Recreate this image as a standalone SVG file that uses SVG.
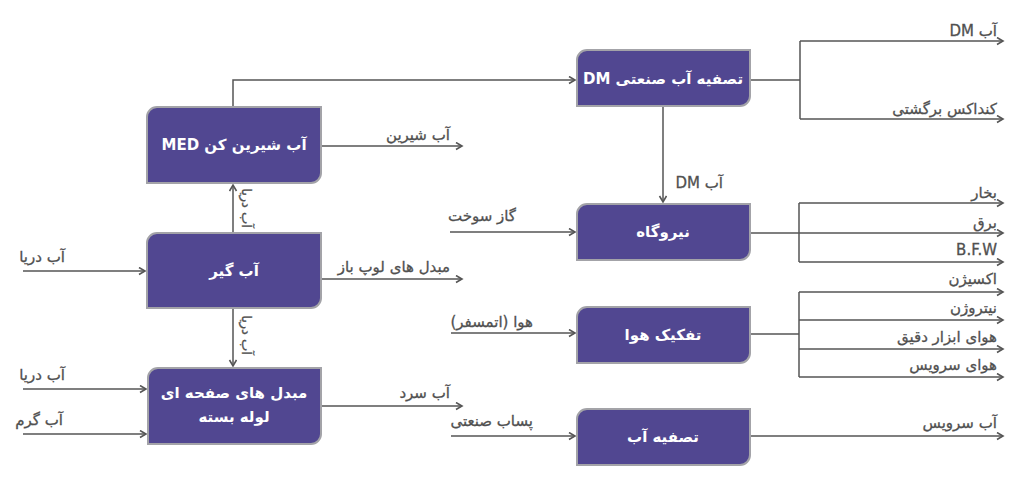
<svg xmlns="http://www.w3.org/2000/svg" width="1024" height="484" viewBox="0 0 1024 484">
<style>
.box{fill:#514791;stroke:#a3a3a8;stroke-width:2}
.bt{fill:#ffffff;font-family:"DejaVu Sans",sans-serif;font-weight:bold;font-size:15px;text-anchor:middle;direction:rtl}
.lb{fill:#505050;stroke:#505050;stroke-width:0.3;font-family:"DejaVu Sans",sans-serif;font-size:15px;direction:rtl;text-anchor:start}
.vl{font-size:13px;text-anchor:middle}
.ln{fill:none;stroke:#555555;stroke-width:1.5}
.ar{marker-end:url(#arrow)}
</style>
<defs>
<marker id="arrow" markerUnits="userSpaceOnUse" markerWidth="9" markerHeight="9" refX="7" refY="4" orient="auto">
<path d="M1,0.5 L7,4 L1,7.5" fill="none" stroke="#555555" stroke-width="1.6"/>
</marker>
</defs>
<rect width="1024" height="484" fill="#ffffff"/>
<g id="connectors">
<path class="ln ar" d="M233,107 V80 H575"/>
<path class="ln ar" d="M321,146 H462"/>
<path class="ln ar" d="M233,233 V185"/>
<path class="ln ar" d="M233,308 V366"/>
<path class="ln ar" d="M23,271 H145"/>
<path class="ln ar" d="M321,279 H462"/>
<path class="ln ar" d="M23,389 H146"/>
<path class="ln ar" d="M23,434 H146"/>
<path class="ln ar" d="M321,406 H462"/>
<path class="ln" d="M750,80 H800"/>
<path class="ln" d="M800,41 V119"/>
<path class="ln ar" d="M800,41 H1003"/>
<path class="ln ar" d="M800,119 H1003"/>
<path class="ln ar" d="M663,106 V202"/>
<path class="ln ar" d="M450,232 H575"/>
<path class="ln ar" d="M750,233 H1003"/>
<path class="ln" d="M799,203 V262"/>
<path class="ln ar" d="M799,203 H1003"/>
<path class="ln ar" d="M799,262 H1003"/>
<path class="ln ar" d="M451,333 H575"/>
<path class="ln" d="M750,334 H799"/>
<path class="ln" d="M799,292 V377"/>
<path class="ln ar" d="M799,292 H1003"/>
<path class="ln ar" d="M799,320 H1003"/>
<path class="ln ar" d="M799,349 H1003"/>
<path class="ln ar" d="M799,377 H1003"/>
<path class="ln ar" d="M451,436 H575"/>
<path class="ln ar" d="M750,436 H1003"/>
</g>
<g id="labels">
<text class="lb" x="450" y="140">آب شیرین</text>
<text class="lb" x="450" y="272">مبدل های لوپ باز</text>
<text class="lb" x="65" y="262">آب دریا</text>
<text class="lb" x="65" y="380">آب دریا</text>
<text class="lb" x="63" y="425">آب گرم</text>
<text class="lb" x="450" y="398">آب سرد</text>
<text class="lb" x="723" y="188">آب DM</text>
<text class="lb" x="516" y="221">گاز سوخت</text>
<text class="lb" x="533" y="327">هوا (اتمسفر)</text>
<text class="lb" x="533" y="426">پساب صنعتی</text>
<text class="lb" x="997" y="36">آب DM</text>
<text class="lb" x="997" y="114">کنداکس برگشتی</text>
<text class="lb" x="997" y="198">بخار</text>
<text class="lb" x="997" y="228">برق</text>
<text class="lb" x="997" y="255">B.F.W</text>
<text class="lb" x="997" y="284">اکسیژن</text>
<text class="lb" x="997" y="313">نیتروژن</text>
<text class="lb" x="997" y="342">هوای ابزار دقیق</text>
<text class="lb" x="997" y="370">هوای سرویس</text>
<text class="lb" x="997" y="428">آب سرویس</text>
<text class="lb vl" transform="translate(242,208) rotate(90)">آب دریا</text>
<text class="lb vl" transform="translate(242,335) rotate(90)">آب دریا</text>
</g>
<g id="node-med">
<path class="box" d="M157,107 H321 V173 A10,10 0 0 1 311,183 H147 V117 A10,10 0 0 1 157,107 Z"/>
<text class="bt" x="234" y="150">آب شیرین کن  MED</text>
</g>
<g id="node-abgir">
<path class="box" d="M157,233 H321 V298 A10,10 0 0 1 311,308 H147 V243 A10,10 0 0 1 157,233 Z"/>
<text class="bt" x="234" y="276">آب گیر</text>
</g>
<g id="node-mobadel">
<path class="box" d="M158,368 H321 V434 A10,10 0 0 1 311,444 H148 V378 A10,10 0 0 1 158,368 Z"/>
<text class="bt" x="234" y="398">مبدل های صفحه ای</text>
<text class="bt" x="234" y="422">لوله بسته</text>
</g>
<g id="node-dm">
<path class="box" d="M587,50 H750 V96 A10,10 0 0 1 740,106 H577 V60 A10,10 0 0 1 587,50 Z"/>
<text class="bt" x="663" y="84">تصفیه آب صنعتی  DM</text>
</g>
<g id="node-niroogah">
<path class="box" d="M587,204 H750 V250 A10,10 0 0 1 740,260 H577 V214 A10,10 0 0 1 587,204 Z"/>
<text class="bt" x="663" y="237">نیروگاه</text>
</g>
<g id="node-tafkik">
<path class="box" d="M587,307 H750 V353 A10,10 0 0 1 740,363 H577 V317 A10,10 0 0 1 587,307 Z"/>
<text class="bt" x="663" y="340">تفکیک هوا</text>
</g>
<g id="node-tasfieh">
<path class="box" d="M587,409 H750 V455 A10,10 0 0 1 740,465 H577 V419 A10,10 0 0 1 587,409 Z"/>
<text class="bt" x="663" y="442">تصفیه آب</text>
</g>
</svg>
